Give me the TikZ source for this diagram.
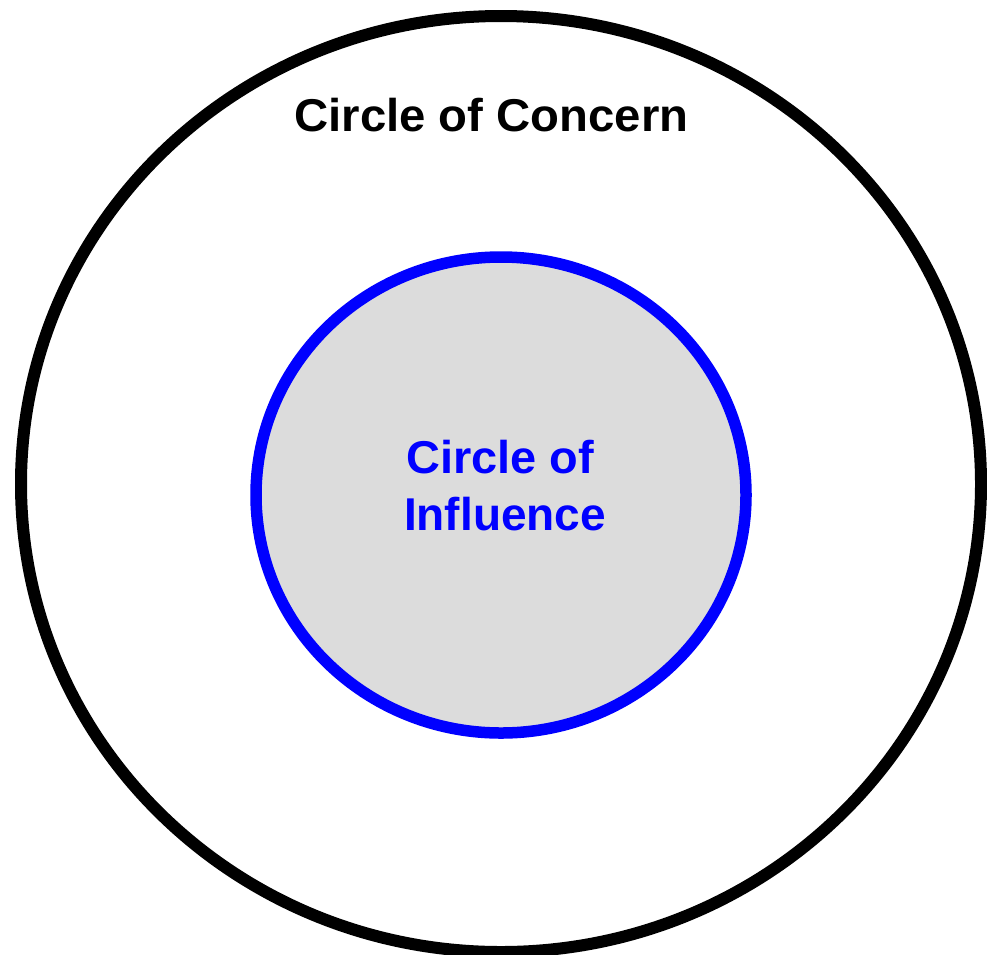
\documentclass[tikz,border=0pt]{standalone}
\usepackage{fontspec}
\setmainfont{Liberation Sans}
\begin{document}
\begin{tikzpicture}[x=1pt,y=-1pt,
  lbl/.style={font=\fontsize{46}{56}\selectfont\bfseries, inner sep=0pt, anchor=base}]
\useasboundingbox (0,0) rectangle (987,954);
\definecolor{infgray}{RGB}{220,220,220}
\draw[line width=12pt, black] (501,484) ellipse [x radius=480, y radius=468];
\draw[line width=11.5pt, blue, fill=infgray] (501,495) ellipse [x radius=245, y radius=238];
\node[lbl] (concern) at (491.5,131.5) {\scalebox{1.028}[1]{Circle of Concern}};
\node[lbl, text=blue] (infA) at (500,473) {\scalebox{1.02}[1]{Circle of}};
\node[lbl, text=blue] (infB) at (505,530) {Influence};
\end{tikzpicture}
\end{document}
